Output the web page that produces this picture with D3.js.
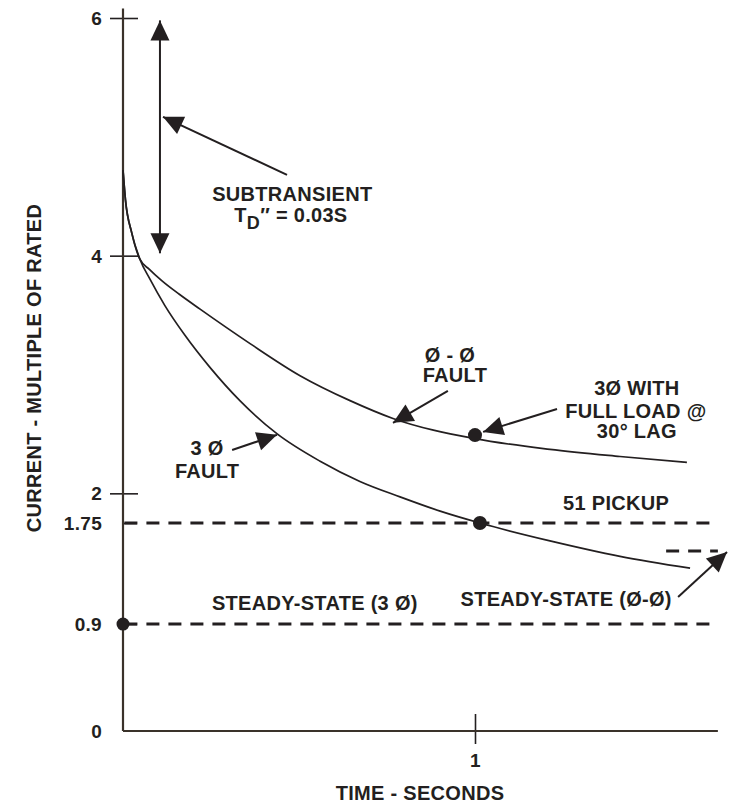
<!DOCTYPE html>
<html>
<head>
<meta charset="utf-8">
<script src="https://cdn.jsdelivr.net/npm/d3@7"></script>
<style>
  body { margin: 0; background: #fff; }
  text { font-family: "Liberation Sans", Arial, sans-serif; font-weight: bold; fill: #231f20; letter-spacing: 0.3px; }
</style>
</head>
<body>
<div id="chart"></div>
<script>
// Kurvendaten (Zeit in s, Strom als Vielfaches des Nennstroms)
const phaseTime = [0, 0.007, 0.025, 0.048, 0.075, 0.11, 0.16, 0.219, 0.361, 0.503, 0.645, 0.767, 1.0, 1.213, 1.412, 1.602];
const phaseCurrent = [4.72, 4.47, 4.19, 3.97, 3.885, 3.79, 3.675, 3.55, 3.26, 2.99, 2.78, 2.63, 2.46, 2.37, 2.31, 2.26];

const threeTime = [0, 0.007, 0.025, 0.048, 0.077, 0.119, 0.176, 0.247, 0.332, 0.438, 0.560, 0.673, 0.787, 0.901, 1.014, 1.213, 1.412, 1.611];
const threeCurrent = [4.72, 4.47, 4.19, 3.97, 3.80, 3.58, 3.33, 3.06, 2.78, 2.50, 2.27, 2.10, 1.97, 1.85, 1.75, 1.60, 1.47, 1.37];

// Waagrechte Niveaus
const pickupLevel = 1.75;
const steady3Level = 0.9;
const steadyPPLevel = 1.515;

// Markierte Punkte
const dotTime = [0, 1.0, 1.014];
const dotCurrent = [0.9, 2.49, 1.75];

// Achsen
const yTickValues = [0, 0.9, 1.75, 2, 4, 6];
const yTickLabels = ["0", "0.9", "1.75", "2", "4", "6"];
const xTickValues = [1];
const xTickLabels = ["1"];

const width = 730, height = 806;
const ink = "#231f20";

const x = d3.scaleLinear().domain([0, 1]).range([123, 475]);
const y = d3.scaleLinear().domain([0, 6]).range([731, 18]);
const tMax = 1.69;

const svg = d3.select("#chart").append("svg")
    .attr("width", width)
    .attr("height", height);

// Y-Achse
const yAxis = svg.append("g")
    .attr("transform", `translate(${x(0)},0)`)
    .call(d3.axisLeft(y).tickValues(yTickValues).tickFormat((d, i) => yTickLabels[i]));
yAxis.select(".domain").remove();
yAxis.selectAll(".tick line")
    .attr("stroke", ink)
    .attr("stroke-width", 1.6)
    .attr("x1", d => d === 0 ? 0 : (d >= 2 ? -13 : 0))
    .attr("x2", d => d === 0 ? 0 : (d >= 2 ? 15 : 14));
yAxis.selectAll(".tick text")
    .attr("x", -21)
    .attr("dy", "0.35em")
    .style("font-size", "19px")
    .style("font-family", "Liberation Sans, Arial, sans-serif")
    .style("font-weight", "bold")
    .attr("fill", ink);
svg.append("line")
    .attr("x1", x(0)).attr("x2", x(0))
    .attr("y1", y(0)).attr("y2", y(6.08))
    .attr("stroke", "#3a322a").attr("stroke-width", 2.2);

// X-Achse
const xAxis = svg.append("g")
    .attr("transform", `translate(0,${y(0)})`)
    .call(d3.axisBottom(x).tickValues(xTickValues).tickFormat((d, i) => xTickLabels[i]));
xAxis.select(".domain").remove();
xAxis.selectAll(".tick line")
    .attr("stroke", ink)
    .attr("stroke-width", 1.6)
    .attr("y1", -17)
    .attr("y2", 13);
xAxis.selectAll(".tick text")
    .attr("y", 36)
    .attr("dy", 0)
    .style("font-size", "19px")
    .style("font-family", "Liberation Sans, Arial, sans-serif")
    .style("font-weight", "bold")
    .attr("fill", ink);
svg.append("line")
    .attr("x1", x(0)).attr("x2", x(tMax))
    .attr("y1", y(0)).attr("y2", y(0))
    .attr("stroke", "#3a322a").attr("stroke-width", 2.2);

// Achsentitel
svg.append("text")
    .attr("x", 420).attr("y", 800)
    .attr("text-anchor", "middle")
    .attr("font-size", "20px")
    .text("TIME - SECONDS");

svg.append("text")
    .attr("transform", "translate(41,368) rotate(-90)")
    .attr("text-anchor", "middle")
    .attr("font-size", "20px")
    .text("CURRENT - MULTIPLE OF RATED");

// Gestrichelte Niveaus
const dashed = [
    { level: pickupLevel, from: 0.004, to: tMax },
    { level: steady3Level, from: 0.004, to: tMax },
    { level: steadyPPLevel, from: 1.543, to: tMax }
];
svg.selectAll(".level")
    .data(dashed)
    .enter()
    .append("line")
    .attr("class", "level")
    .attr("x1", d => x(d.from)).attr("x2", d => x(d.to))
    .attr("y1", d => y(d.level)).attr("y2", d => y(d.level))
    .attr("stroke", ink)
    .attr("stroke-width", 3)
    .attr("stroke-dasharray", "13,9");

// Kurven
const line = d3.line()
    .x(d => x(d[0]))
    .y(d => y(d[1]))
    .curve(d3.curveMonotoneX);

[[phaseTime, phaseCurrent], [threeTime, threeCurrent]].forEach(([ts, is]) => {
    svg.append("path")
        .datum(ts.map((t, i) => [t, is[i]]))
        .attr("d", line)
        .attr("fill", "none")
        .attr("stroke", ink)
        .attr("stroke-width", 1.7);
});

// Punkte
svg.selectAll(".dot")
    .data(dotTime.map((t, i) => [t, dotCurrent[i]]))
    .enter()
    .append("circle")
    .attr("cx", d => x(d[0]))
    .attr("cy", d => y(d[1]))
    .attr("r", (d, i) => i === 0 ? 6.5 : 7)
    .attr("fill", ink);

// Pfeile (Start -> Spitze, in Datenkoordinaten)
const arrows = [
    { from: [0.105, 4.02], to: [0.105, 5.98], both: true },
    { from: [0.466, 4.68], to: [0.1136, 5.168] },
    { from: [0.923, 2.862], to: [0.767, 2.593] },
    { from: [1.233, 2.710], to: [1.023, 2.517] },
    { from: [0.310, 2.365], to: [0.4375, 2.492] },
    { from: [1.577, 1.128], to: [1.716, 1.507] }
];

function headPath(tx, ty, fx, fy, len, half) {
    const a = Math.atan2(ty - fy, tx - fx);
    const bx = tx - len * Math.cos(a), by = ty - len * Math.sin(a);
    const px = -Math.sin(a) * half, py = Math.cos(a) * half;
    return `M${tx},${ty}L${bx + px},${by + py}L${bx - px},${by - py}Z`;
}

arrows.forEach(a => {
    const fx = x(a.from[0]), fy = y(a.from[1]);
    const tx = x(a.to[0]), ty = y(a.to[1]);
    svg.append("line")
        .attr("x1", fx).attr("y1", fy)
        .attr("x2", tx).attr("y2", ty)
        .attr("stroke", ink)
        .attr("stroke-width", 2);
    svg.append("path")
        .attr("d", headPath(tx, ty, fx, fy, 20, 9.5))
        .attr("fill", ink);
    if (a.both) {
        svg.append("path")
            .attr("d", headPath(fx, fy, tx, ty, 20, 9.5))
            .attr("fill", ink);
    }
});

// Beschriftungen (Mitte, Grundlinie in Datenkoordinaten)
const notes = [
    { t: 0.481, i: 4.461, text: "SUBTRANSIENT" },
    { t: 0.929, i: 3.106, text: "Ø - Ø" },
    { t: 0.943, i: 2.938, text: "FAULT" },
    { t: 1.460, i: 2.828, text: "3Ø WITH" },
    { t: 1.457, i: 2.635, text: "FULL LOAD @" },
    { t: 1.460, i: 2.466, text: "30° LAG" },
    { t: 1.401, i: 1.860, text: "51 PICKUP" },
    { t: 0.239, i: 2.323, text: "3 Ø" },
    { t: 0.239, i: 2.130, text: "FAULT" },
    { t: 0.545, i: 1.018, text: "STEADY-STATE (3 Ø)" },
    { t: 1.259, i: 1.052, text: "STEADY-STATE (Ø-Ø)" }
];
svg.selectAll(".note")
    .data(notes)
    .enter()
    .append("text")
    .attr("class", "note")
    .attr("x", d => x(d.t))
    .attr("y", d => y(d.i))
    .attr("text-anchor", "middle")
    .attr("font-size", "20px")
    .text(d => d.text);

// T_D'' = 0.03S mit tiefgestelltem D
const td = svg.append("text")
    .attr("x", x(0.477))
    .attr("y", y(4.285))
    .attr("text-anchor", "middle")
    .attr("font-size", "20px");
td.append("tspan").text("T");
td.append("tspan").attr("dy", 7).attr("font-size", "18px").text("D");
td.append("tspan").attr("dy", -7).text("″ = 0.03S");
</script>
</body>
</html>
